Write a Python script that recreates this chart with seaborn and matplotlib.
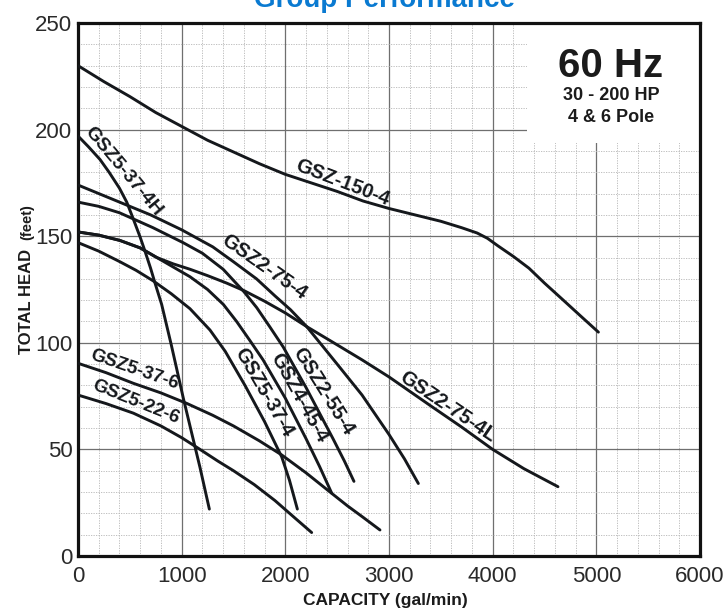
import numpy as np
import pandas as pd
import seaborn as sns
import matplotlib.pyplot as plt
from matplotlib.patches import Rectangle

# -----------------------------
# Curve data (capacity gal/min, total head feet)
# -----------------------------
gsz_150_4_q = [0, 250, 500, 750, 1000, 1250, 1500, 1750, 2000, 2250, 2500, 2750, 3000,
               3250, 3500, 3700, 3850, 3950, 4050, 4200, 4350, 4500, 4670, 4850, 5020]
gsz_150_4_h = [230, 222.5, 215.5, 208, 201.5, 195, 189.5, 184, 179, 175, 171, 166.5, 163,
               160, 157, 154, 151.5, 149, 145.5, 140.5, 135, 128, 120.5, 112.5, 105]

gsz5_37_4h_q = [0, 100, 212, 300, 400, 470, 534, 600, 646, 700, 743, 807, 900, 1016, 1100, 1177, 1267]
gsz5_37_4h_h = [197, 192, 186, 180, 172.5, 166, 158, 149.5, 143, 135, 128, 118, 99, 74, 57, 41.5, 22]

gsz2_75_4_q = [0, 300, 500, 700, 1000, 1300, 1500, 1722, 1900, 2050, 2206, 2350, 2500,
               2740, 3000, 3150, 3283]
gsz2_75_4_h = [174, 168, 164, 160, 153, 145, 138, 130, 122, 115.5, 107.6, 99, 90,
               75.5, 57, 45.5, 34]

gsz2_55_4_q = [0, 200, 400, 723, 1013, 1200, 1400, 1600, 1724, 1850, 1980, 2200, 2460, 2570, 2662]
gsz2_55_4_h = [166, 164, 161, 154, 147, 142, 134.5, 124, 116.5, 107.5, 98, 79, 55, 44.5, 35]

gsz4_45_4_q = [0, 200, 405, 600, 760, 920, 1080, 1250, 1402, 1530, 1659, 1785, 2000, 2200, 2330, 2447]
gsz4_45_4_h = [152, 150.5, 148, 144.5, 140, 135.5, 131, 125, 118, 110, 101, 92, 74, 55, 42, 29.5]

gsz5_37_4_q = [0, 200, 405, 560, 727, 900, 1080, 1273, 1420, 1611, 1800, 1965, 2040, 2116]
gsz5_37_4_h = [147, 143, 138, 134, 129, 123, 116, 106, 96, 80, 63, 46.5, 35.5, 22]

gsz2_75_4l_q = [0, 200, 405, 600, 760, 920, 1080, 1250, 1434, 1600, 1800, 2000, 2206, 2450,
                2740, 3000, 3400, 3700, 4000, 4300, 4630]
gsz2_75_4l_h = [152, 150.5, 148, 144.5, 140, 137, 134.5, 131.5, 128, 124.5, 119.5, 114, 107.6, 100.5,
                92, 84, 70.5, 60.5, 50, 41, 32.5]

gsz5_37_6_q = [0, 270, 534, 800, 1048, 1300, 1500, 1750, 1965, 2200, 2447, 2600, 2743, 2913]
gsz5_37_6_h = [90.4, 86, 81, 76.5, 71.6, 66, 61, 54, 47.4, 39, 29.4, 23.5, 18.4, 12.2]

gsz5_22_6_q = [0, 270, 534, 800, 1000, 1161, 1350, 1500, 1700, 1900, 2100, 2254]
gsz5_22_6_h = [75.5, 71.5, 67, 61, 55.5, 50.5, 44.5, 40, 33.5, 26, 17.5, 11]

models = ["GSZ-150-4", "GSZ5-37-4H", "GSZ2-75-4", "GSZ2-55-4", "GSZ4-45-4",
          "GSZ5-37-4", "GSZ2-75-4L", "GSZ5-37-6", "GSZ5-22-6"]
curves_q = [gsz_150_4_q, gsz5_37_4h_q, gsz2_75_4_q, gsz2_55_4_q, gsz4_45_4_q,
            gsz5_37_4_q, gsz2_75_4l_q, gsz5_37_6_q, gsz5_22_6_q]
curves_h = [gsz_150_4_h, gsz5_37_4h_h, gsz2_75_4_h, gsz2_55_4_h, gsz4_45_4_h,
            gsz5_37_4_h, gsz2_75_4l_h, gsz5_37_6_h, gsz5_22_6_h]

# label centre (gpm, ft) and screen angle for each curve name
label_q = [2537, 413, 1777, 2343, 2110, 1764, 3551, 537, 550]
label_h = [174, 179.5, 134.5, 76.7, 73.5, 75.9, 68.9, 86.2, 70.8]
label_rot = [-21, -50, -35, -58, -61, -60, -34, -19, -22]
label_size = [14.5, 14, 14.5, 14.5, 14.5, 14.5, 14.5, 13.5, 13.5]

x_ticks = [0, 1000, 2000, 3000, 4000, 5000, 6000]
y_ticks = [0, 50, 100, 150, 200, 250]

# long-form table for seaborn
df = pd.concat([pd.DataFrame({"model": m, "gpm": q, "head": h})
                for m, q, h in zip(models, curves_q, curves_h)], ignore_index=True)

# -----------------------------
# Plot
# -----------------------------
sns.set_style("white")
plt.rcParams['font.family'] = ['Liberation Sans', 'DejaVu Sans']

fig = plt.figure(figsize=(7.24, 6.10), dpi=100)
ax = fig.add_axes([78 / 724, 54 / 610, 622 / 724, 533 / 610])

sns.lineplot(data=df, x="gpm", y="head", units="model", estimator=None,
             sort=False, color="#15181c", linewidth=2.1, legend=False,
             ax=ax, zorder=3)

ax.set_xlim(0, 6000)
ax.set_ylim(0, 250)
ax.set_xticks(x_ticks)
ax.set_yticks(y_ticks)
ax.set_xticks(np.arange(0, 6001, 200), minor=True)
ax.set_yticks(np.arange(0, 251, 10), minor=True)
ax.set_axisbelow(True)
ax.grid(which="major", color="#6f6f6f", linewidth=0.9, linestyle="-")
ax.grid(which="minor", color="#b5b5b5", linewidth=0.6, linestyle=(0, (1.5, 1.5)))
ax.tick_params(which="both", length=0)
ax.tick_params(axis="x", labelsize=16, labelcolor="#2a2a2a", pad=7)
ax.tick_params(axis="y", labelsize=16, labelcolor="#2a2a2a", pad=4)
ax.set_xlabel("")
ax.set_ylabel("")
for s in ax.spines.values():
    s.set_visible(True)
    s.set_color("#111111")
    s.set_linewidth(2.3)

# white box behind the 60 Hz note
ax.add_patch(Rectangle((4330, 193.7), 1670, 56.3, facecolor="white",
                       edgecolor="none", zorder=1))

# curve names, nudged a little to sit above their lines
for name, q, h, r, fs in zip(models, label_q, label_h, label_rot, label_size):
    a = np.deg2rad(r)
    ax.annotate(name, xy=(q, h), xytext=(-3 * np.sin(a), 3 * np.cos(a)),
                textcoords="offset pixels", rotation=r, rotation_mode="anchor",
                ha="center", va="center", fontsize=fs, fontweight="bold",
                color="#15181c", zorder=4)

# note box text
fig.text(611 / 724, 1 - 66 / 610, "60 Hz", ha="center", va="center",
         fontsize=29, fontweight="bold", color="#1b1b1b")
fig.text(611 / 724, 1 - 95 / 610, "30 - 200 HP", ha="center", va="center",
         fontsize=13, fontweight="bold", color="#1b1b1b")
fig.text(611 / 724, 1 - 117 / 610, "4 & 6 Pole", ha="center", va="center",
         fontsize=13, fontweight="bold", color="#1b1b1b")

# title, clipped at the top edge like the original
fig.text(385 / 724, 1 - 7 / 610, "Group Performance", ha="center", va="baseline",
         fontsize=20, fontweight="bold", color="#0a7ad1")

# axis titles
fig.text(385 / 724, 1 - 600 / 610, "CAPACITY (gal/min)", ha="center", va="center",
         fontsize=12.5, fontweight="bold", color="#1b1b1b")
fig.text(31 / 724, 1 - 354 / 610, "TOTAL HEAD", rotation=90, rotation_mode="anchor",
         ha="left", va="baseline", fontsize=12, fontweight="bold", color="#1b1b1b")
fig.text(31 / 724, 1 - 240 / 610, "(feet)", rotation=90, rotation_mode="anchor",
         ha="left", va="baseline", fontsize=10.5, fontweight="bold", color="#1b1b1b")

fig.savefig("out.png", dpi=100)
